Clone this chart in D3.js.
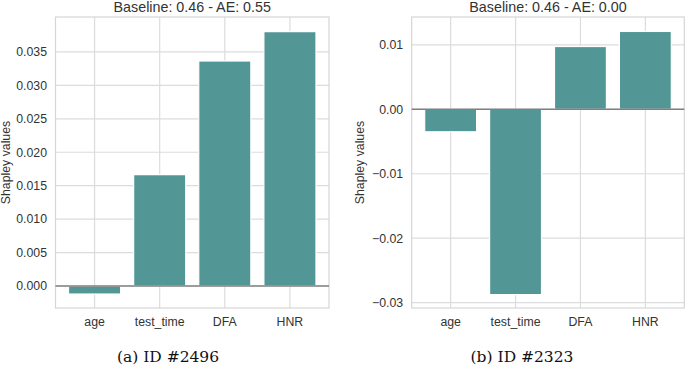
<!DOCTYPE html>
<html>
<head>
<meta charset="utf-8">
<script src="https://cdn.jsdelivr.net/npm/d3@7"></script>
<style>
  body { margin: 0; background: #fff; }
  svg text { font-family: "Liberation Sans", Arial, sans-serif; }
</style>
</head>
<body>
<div id="wrapper"></div>
<script>
// data
const features = ["age", "test_time", "DFA", "HNR"];
const valuesA = [-0.0012, 0.01665, 0.03365, 0.03804];
const valuesB = [-0.00349, -0.02875, 0.00974, 0.01208];
const titles = ["Baseline: 0.46 - AE: 0.55", "Baseline: 0.46 - AE: 0.00"];
const captions = ["(a) ID #2496", "(b) ID #2323"];
const ticksA = [0, 0.005, 0.01, 0.015, 0.02, 0.025, 0.03, 0.035];
const ticksB = [-0.03, -0.02, -0.01, 0, 0.01];

const width = 685, height = 368;
const svg = d3.select("#wrapper").append("svg")
  .attr("width", width).attr("height", height);

const panels = [
  { values: valuesA, ticks: ticksA, fmt: d3.format(".3f"), domain: [-0.00329, 0.04023],
    left: 55.5, right: 329, title: titles[0], caption: captions[0], capX: 168, labelX: 5.5 },
  { values: valuesB, ticks: ticksB, fmt: d => d3.format(".2f")(d).replace("-", "\u2212"), domain: [-0.03083, 0.01432],
    left: 411.7, right: 684.3, title: titles[1], caption: captions[1], capX: 522, labelX: 360 }
];

const plotTop = 17, plotBottom = 308;

panels.forEach(p => {
  const g = svg.append("g");
  const x = d3.scaleLinear().domain([-0.6, 3.6]).range([p.left, p.right]);
  const y = d3.scaleLinear().domain(p.domain).range([plotBottom, plotTop]);
  const band = x(1) - x(0);

  // grid
  g.selectAll("line.hg").data(p.ticks).join("line")
    .attr("x1", p.left).attr("x2", p.right)
    .attr("y1", d => y(d)).attr("y2", d => y(d))
    .style("stroke", "#dcdcdc").style("stroke-width", 1.2);
  g.selectAll("line.vg").data(features).join("line")
    .attr("x1", (d, i) => x(i)).attr("x2", (d, i) => x(i))
    .attr("y1", plotTop).attr("y2", plotBottom)
    .style("stroke", "#dcdcdc").style("stroke-width", 1.2);

  // frame
  g.append("rect")
    .attr("x", p.left).attr("y", plotTop)
    .attr("width", p.right - p.left).attr("height", plotBottom - plotTop)
    .style("fill", "none").style("stroke", "#d6d6d6").style("stroke-width", 1.2);

  // bars
  g.selectAll("rect.bar").data(p.values).join("rect")
    .attr("x", (d, i) => x(i) - band * 0.4)
    .attr("width", band * 0.8)
    .attr("y", d => y(Math.max(0, d)))
    .attr("height", d => Math.abs(y(d) - y(0)))
    .style("fill", "#539696")
    .style("stroke", "#fff").style("stroke-width", 1.2);

  // zero line
  g.append("line")
    .attr("x1", p.left).attr("x2", p.right)
    .attr("y1", y(0)).attr("y2", y(0))
    .style("stroke", "#808080").style("stroke-width", 1.5);

  // y tick labels
  g.selectAll("text.yt").data(p.ticks).join("text")
    .attr("x", p.left - 8.5).attr("y", d => y(d))
    .attr("dy", "0.35em").attr("text-anchor", "end")
    .style("font-size", "12.3px").style("fill", "#333")
    .text(p.fmt);

  // x tick labels
  g.selectAll("text.xt").data(features).join("text")
    .attr("x", (d, i) => x(i)).attr("y", 322)
    .attr("dy", "0.35em").attr("text-anchor", "middle")
    .style("font-size", "12.3px").style("fill", "#333")
    .text(d => d);

  // title
  g.append("text")
    .attr("x", (p.left + p.right) / 2).attr("y", 12)
    .attr("text-anchor", "middle")
    .style("font-size", "14.3px").style("fill", "#333")
    .text(p.title);

  // y label
  g.append("text")
    .attr("transform", `translate(${p.labelX},${(plotTop + plotBottom) / 2}) rotate(-90)`)
    .attr("text-anchor", "middle").attr("dy", "0.35em")
    .style("font-size", "12.3px").style("fill", "#333")
    .text("Shapley values");

  // caption
  g.append("text")
    .attr("x", p.capX).attr("y", 357)
    .attr("dy", "0.35em").attr("text-anchor", "middle")
    .style("font-family", "'DejaVu Serif', 'Liberation Serif', serif")
    .style("font-size", "15.5px").style("fill", "#111")
    .text(p.caption);
});
</script>
</body>
</html>
